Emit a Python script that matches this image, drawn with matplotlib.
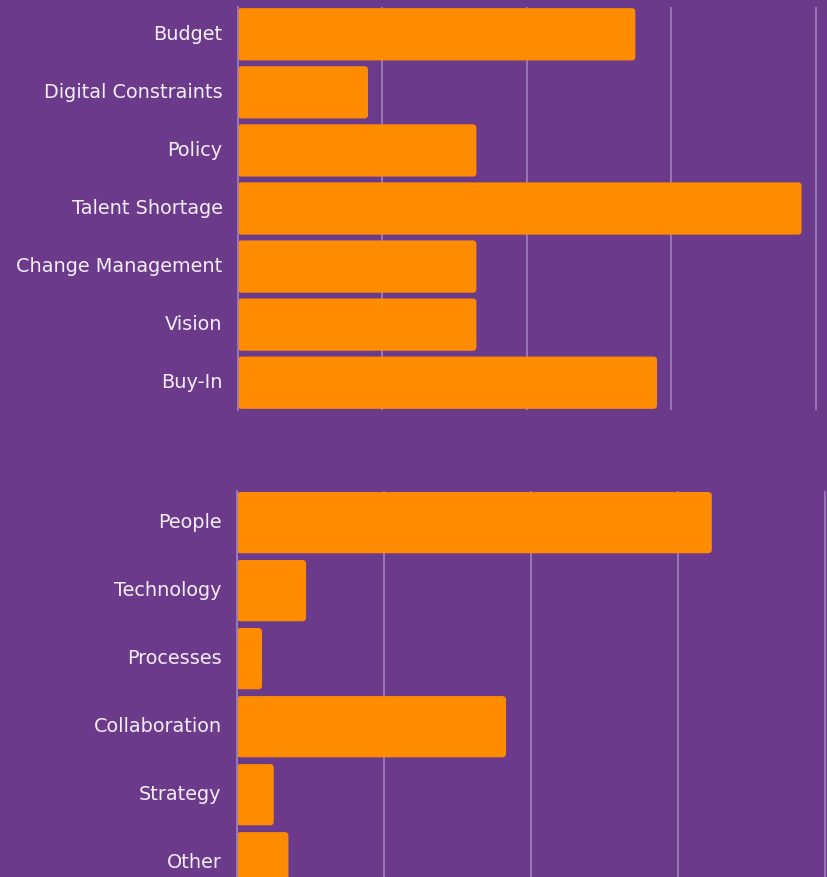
import matplotlib.pyplot as plt
from matplotlib.patches import FancyBboxPatch

barriers = ["Budget", "Digital Constraints", "Policy", "Talent Shortage",
            "Change Management", "Vision", "Buy-In"]
barrier_vals = [2.75, 0.9, 1.65, 3.9, 1.65, 1.65, 2.9]

focus = ["People", "Technology", "Processes", "Collaboration", "Strategy", "Other"]
focus_vals = [3.23, 0.47, 0.17, 1.83, 0.25, 0.35]

BG = "#6c3a8b"
BAR = "#ff8c00"
GRID = "#9b7db8"

plt.rcParams['font.family'] = ['DejaVu Sans']

fig = plt.figure(figsize=(8.28, 8.77), dpi=100)
fig.patch.set_facecolor(BG)

W, H = 828, 877


def make_axes(left, top, bottom, right=828):
    return fig.add_axes([left / W, 1 - bottom / H, (right - left) / W, (bottom - top) / H])


def draw(ax, labels, vals, xmax, ylim):
    ax.set_facecolor(BG)
    bars = ax.barh(range(len(vals)), vals, height=0.9, color=BAR)
    ax.set_xlim(0, xmax)
    ax.set_ylim(*ylim)
    aspect = (ax.get_window_extent().width / xmax) / (ax.get_window_extent().height / abs(ylim[0] - ylim[1]))
    for b in bars:
        x, y = b.get_x(), b.get_y()
        w, h = b.get_width(), b.get_height()
        b.set_visible(False)
        ax.add_patch(FancyBboxPatch((x, y), w, h, boxstyle="round,pad=0,rounding_size=0.025",
                                    mutation_aspect=aspect, facecolor=BAR, edgecolor="none", zorder=3))
    ax.set_yticks(range(len(labels)))
    ax.set_yticklabels(labels, color="#f3eef6", fontsize=13.9, va="center")
    ax.set_xticks(range(0, 5))
    ax.tick_params(axis='x', length=0, labelbottom=False)
    ax.tick_params(axis='y', length=0, pad=11)
    ax.grid(axis='x', color=GRID, linewidth=1.3)
    ax.set_axisbelow(True)
    for s in ["top", "right", "bottom"]:
        ax.spines[s].set_visible(False)
    ax.spines["left"].set_color(GRID)
    ax.spines["left"].set_linewidth(1.3)
    ax.spines["left"].set_zorder(4)


ax1 = make_axes(238, 7, 410)
draw(ax1, barriers, barrier_vals, (828 - 238) / 144.5, (6.47, -0.47))

ax2 = make_axes(237, 491, 877)
draw(ax2, focus, focus_vals, (828 - 237) / 147.0, (5.21, -0.465))

fig.savefig("out.png", dpi=100, facecolor=BG)
